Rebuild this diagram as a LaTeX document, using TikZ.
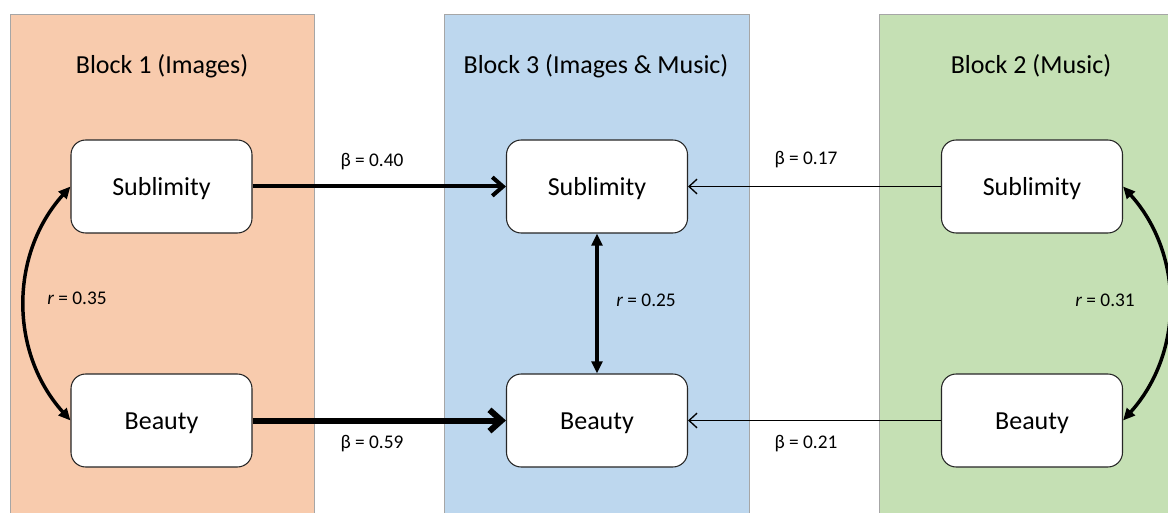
\documentclass[tikz,border=0pt]{standalone}
\usepackage{fontspec}
\setmainfont{Carlito}
\usetikzlibrary{arrows.meta}
\definecolor{orangeb}{HTML}{F8CBAD}
\definecolor{blueb}{HTML}{BDD7EE}
\definecolor{greenb}{HTML}{C5E0B4}
\definecolor{edgeg}{HTML}{A6A6A6}
\tikzset{
  panel/.style={line width=0.6pt, draw=edgeg},
  varbox/.style={draw=black!85, line width=0.8pt, fill=white, rounded corners=11pt,
    minimum width=135.75pt, minimum height=69.75pt, inner sep=0pt,
    text height=17pt, text depth=3pt,
    font=\fontsize{19.5}{23}\selectfont},
  title/.style={font=\fontsize{19.5}{23}\selectfont},
  lab/.style={font=\fontsize{14.5}{17}\selectfont, inner sep=1pt},
  thickarr/.style={-{Straight Barb[length=8pt,width=14pt]}, line width=3pt},
  thickerarr/.style={-{Straight Barb[length=9pt,width=16pt]}, line width=4.5pt},
  thinarr/.style={-{Straight Barb[length=6pt,width=11pt]}, line width=1pt},
  corr/.style={{Triangle[length=9pt,width=8pt]}-{Triangle[length=9pt,width=8pt]}, line width=2.6pt},
}
\begin{document}
\begin{tikzpicture}[x=0.75pt,y=-0.75pt]
\useasboundingbox (0,0) rectangle (1168,513);
% panels
\path[panel, fill=orangeb] (10,14) rectangle (314,520);
\path[panel, fill=blueb] (444,14) rectangle (749,520);
\path[panel, fill=greenb] (879,14) rectangle (1175,520);
% titles
\node[title] (t1) at (162,66) {Block 1 (Images)};
\node[title] (t3) at (596,66) {Block 3 (Images \& Music)};
\node[title] (t2) at (1031,66) {Block 2 (Music)};
% boxes
\node[varbox] (s1) at (161.5,186.5) {Sublimity};
\node[varbox] (b1) at (161.5,420.5) {Beauty};
\node[varbox] (s3) at (597,186.5) {Sublimity};
\node[varbox] (b3) at (597,420.5) {Beauty};
\node[varbox] (s2) at (1032,186.5) {Sublimity};
\node[varbox] (b2) at (1032,420.5) {Beauty};
% regressions
\draw[thickarr] (s1) -- (s3);
\draw[thickerarr] (b1) -- (b3);
\draw[thinarr] (s2) -- (s3);
\draw[thinarr] (b2) -- (b3);
\node[lab] (l1) at (372,162) {β = 0.40};
\node[lab] (l2) at (372,444) {β = 0.59};
\node[lab] (l3) at (806,160) {β = 0.17};
\node[lab] (l4) at (806,444) {β = 0.21};
% correlations
\draw[corr] (s1.west) to[bend right=42] (b1.west);
\draw[corr] (s3.south) -- (b3.north);
\draw[corr] (s2.east) to[bend left=42] (b2.east);
\node[lab] (r1) at (77,298) {\textit{r} = 0.35};
\node[lab] (r3) at (646,300) {\textit{r} = 0.25};
\node[lab] (r2) at (1105,300) {\textit{r} = 0.31};
\end{tikzpicture}
\end{document}
